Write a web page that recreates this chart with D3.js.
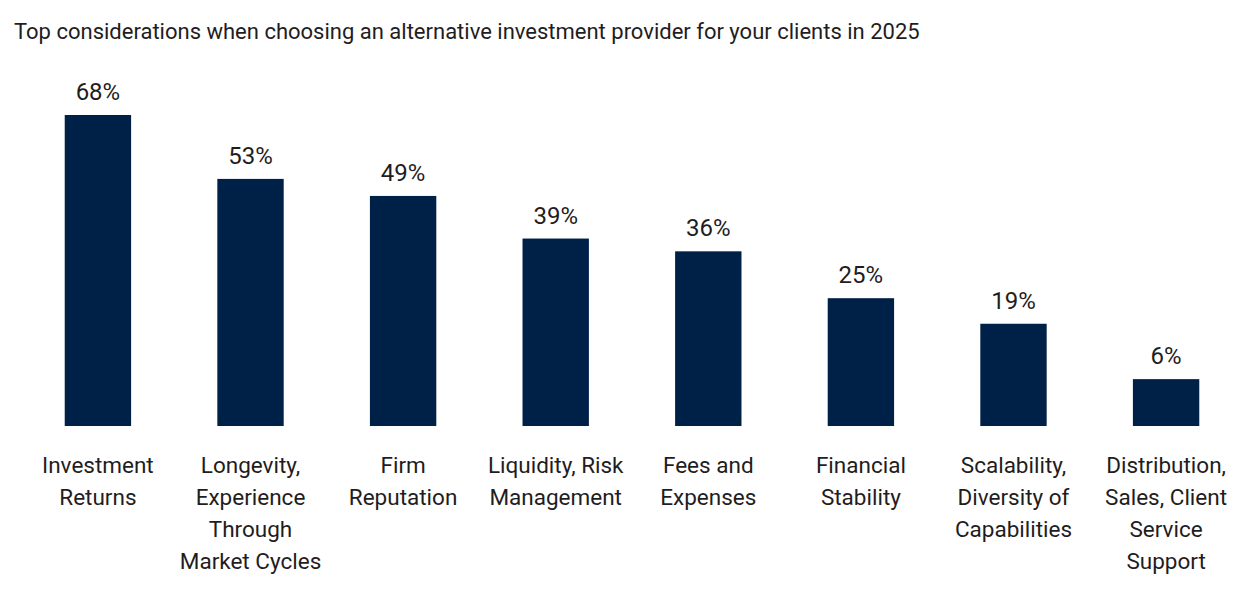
<!DOCTYPE html>
<html>
<head>
<meta charset="utf-8">
<script src="https://cdn.jsdelivr.net/npm/d3@7"></script>
<style>
  body { margin: 0; background: #fff; }
  svg text { font-family: "Roboto", "Liberation Sans", sans-serif; fill: #1f1d1e; }
</style>
</head>
<body>
<svg id="chart" width="1245" height="600"></svg>
<script>
// chart data
var categories = ["Investment Returns", "Longevity, Experience Through Market Cycles", "Firm Reputation",
                  "Liquidity, Risk Management", "Fees and Expenses", "Financial Stability",
                  "Scalability, Diversity of Capabilities", "Distribution, Sales, Client Service Support"];
// how the category labels wrap
var labelLines = [["Investment", "Returns"],
                  ["Longevity,", "Experience", "Through", "Market Cycles"],
                  ["Firm", "Reputation"],
                  ["Liquidity, Risk", "Management"],
                  ["Fees and", "Expenses"],
                  ["Financial", "Stability"],
                  ["Scalability,", "Diversity of", "Capabilities"],
                  ["Distribution,", "Sales, Client", "Service", "Support"]];
var values = [68, 53, 49, 39, 36, 25, 19, 6];
var title = "Top considerations when choosing an alternative investment provider for your clients in 2025";

var svg = d3.select("#chart");

svg.append("text")
    .attr("x", 14)
    .attr("y", 39)
    .attr("font-size", 22)
    .text(title);

var baseY = 426;

// x-scale
var xScale = d3.scaleBand()
    .domain(categories)
    .range([22, 1242])
    .paddingInner(0.565)
    .paddingOuter(0.28);

// y-scale (bars in the original don't start exactly at zero)
var yScale = d3.scaleLinear()
    .domain([-5, 68])
    .range([baseY, 115]);

var g = svg.append("g").attr("class", "chartArea");

g.selectAll(".bar")
    .data(values).enter()
    .append("rect")
    .attr("class", "bar")
    .attr("x", function(d, i){ return xScale(categories[i]); })
    .attr("width", xScale.bandwidth())
    .attr("y", function(d){ return yScale(d); })
    .attr("height", function(d){ return baseY - yScale(d); })
    .attr("fill", "#002147");

g.selectAll(".val")
    .data(values).enter()
    .append("text")
    .attr("class", "val")
    .attr("x", function(d, i){ return xScale(categories[i]) + xScale.bandwidth() / 2; })
    .attr("y", function(d){ return yScale(d) - 15; })
    .attr("text-anchor", "middle")
    .attr("font-size", 24)
    .text(function(d){ return d + "%"; });

// category labels under the bars
var lab = g.selectAll(".cat")
    .data(categories).enter()
    .append("text")
    .attr("class", "cat")
    .attr("text-anchor", "middle")
    .attr("font-size", 22.5);

lab.selectAll("tspan")
    .data(function(d, i){ return labelLines[i].map(function(t){ return {t: t, c: d}; }); })
    .enter().append("tspan")
    .attr("x", function(d){ return xScale(d.c) + xScale.bandwidth() / 2; })
    .attr("y", function(d, j){ return 473 + j * 32; })
    .text(function(d){ return d.t; });
</script>
</body>
</html>
